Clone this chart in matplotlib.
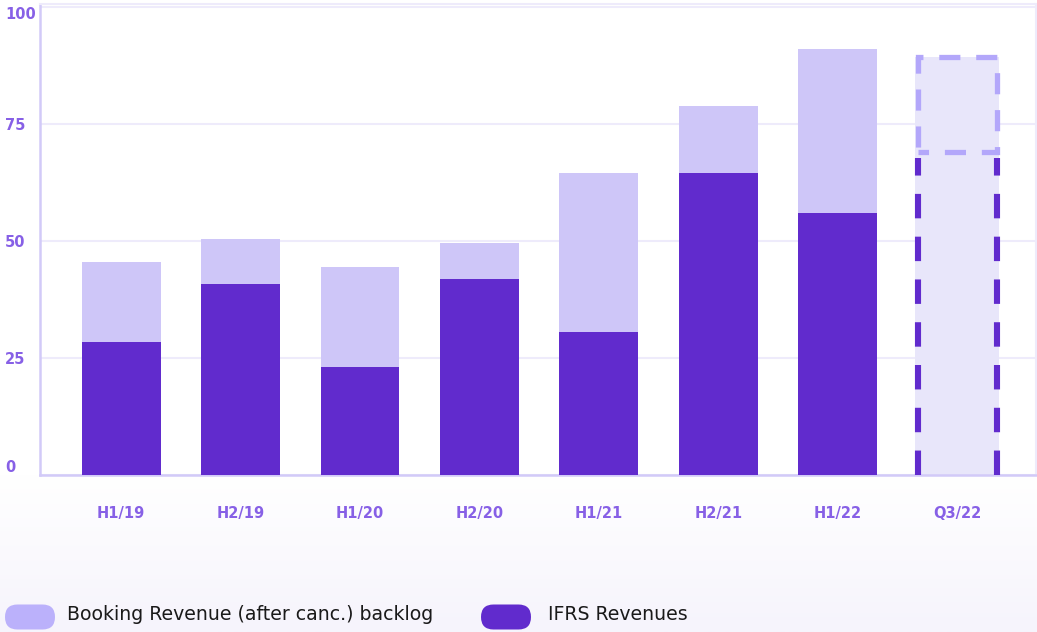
import numpy as np
import matplotlib
matplotlib.use('Agg')
import matplotlib.pyplot as plt
from matplotlib.patches import FancyBboxPatch, Rectangle

plt.rcParams['font.family'] = ['DejaVu Sans']

# data
periods = ['H1/19', 'H2/19', 'H1/20', 'H2/20', 'H1/21', 'H2/21', 'H1/22']
ifrs = [28.4, 40.8, 23.1, 41.9, 30.6, 64.5, 56.0]
backlog = [17.1, 9.6, 21.3, 7.7, 33.9, 14.3, 35.0]
forecast_label = 'Q3/22'
forecast_ifrs = 69.0
forecast_backlog = 20.3

DARK = '#612bcd'
LIGHT = '#cec6f8'
LIGHT_LEG = '#bbb1fb'
FORE_FILL = '#e8e6fa'
FORE_EDGE = '#b3a7fa'
TICK = '#8760e6'
SPINE = '#d2caf8'
GRID = '#eeebfb'

fig = plt.figure(figsize=(10.37, 6.32), dpi=100)
fig.patch.set_facecolor('white')

# soft lavender wash at the bottom of the picture
bg = fig.add_axes([0, 0, 1, 0.25], zorder=-5)
grad = np.linspace(0, 1, 100).reshape(-1, 1)
bg.imshow(grad, aspect='auto', cmap=matplotlib.colors.LinearSegmentedColormap.from_list(
    'wash', ['#f6f4fc', '#ffffff']), origin='lower', extent=[0, 1, 0, 1])
bg.axis('off')

ax = fig.add_axes([40 / 1037, 1 - 475 / 632, 996 / 1037, 471 / 632])
ax.set_facecolor('none')

x = np.arange(len(periods))
w = 0.66
ax.bar(x, ifrs, width=w, color=DARK, zorder=3)
ax.bar(x, backlog, width=w, bottom=ifrs, color=LIGHT, zorder=3)

# forecast column
xf = len(periods)
ax.bar(xf, forecast_ifrs + forecast_backlog, width=w + 0.04, color=FORE_FILL, zorder=2)
ax.vlines([xf - w / 2, xf + w / 2], 0, forecast_ifrs - 1.2, colors=DARK,
          linewidth=4.4, linestyles=(0, (4, 3)), zorder=4)
ax.add_patch(Rectangle((xf - w / 2, forecast_ifrs), w, forecast_backlog, fill=False,
                       edgecolor=FORE_EDGE, linewidth=3.8, linestyle=(2, (4, 3)), zorder=4))

ax.set_xlim(-0.68, 7.66)
ax.set_ylim(0, 100.6)
ax.set_xticks(list(x) + [xf])
ax.set_xticklabels(periods + [forecast_label])
ax.set_yticks([0, 25, 50, 75, 100])
ax.tick_params(axis='x', length=0, pad=22, labelsize=10.5, labelcolor=TICK)
ax.tick_params(axis='y', length=0, pad=25, labelsize=10.5, labelcolor=TICK)
for lbl in ax.get_xticklabels() + ax.get_yticklabels():
    lbl.set_fontweight('bold')
ylabels = ax.get_yticklabels()
for lbl in ylabels:
    lbl.set_horizontalalignment('left')
ylabels[0].set_verticalalignment('bottom')
ylabels[-1].set_verticalalignment('top')

ax.grid(axis='y', color=GRID, linewidth=1.5, zorder=0)
for side in ['left', 'bottom']:
    ax.spines[side].set_color(SPINE)
    ax.spines[side].set_linewidth(1.8)
for side in ['top', 'right']:
    ax.spines[side].set_color(GRID)
    ax.spines[side].set_linewidth(1.5)

# legend drawn on a pixel-scaled overlay so the pill keys stay round
lg = fig.add_axes([0, 0, 1, 1], zorder=5)
lg.set_xlim(0, 1037)
lg.set_ylim(632, 0)
lg.axis('off')
lg.patch.set_alpha(0)
legend_items = [('Booking Revenue (after canc.) backlog', LIGHT_LEG, 5, 67),
                ('IFRS Revenues', DARK, 481, 548)]
for text, color, px, tx in legend_items:
    # zero-size box padded by 12.5 px -> 50x25 pill
    lg.add_patch(FancyBboxPatch((px + 12.5, 617), 25, 0,
                                boxstyle='round,pad=12.5',
                                facecolor=color, edgecolor='none'))
    lg.text(tx, 615, text, fontsize=13.6, color='#1a1a1a', va='center')

fig.savefig('out.png', dpi=100)
